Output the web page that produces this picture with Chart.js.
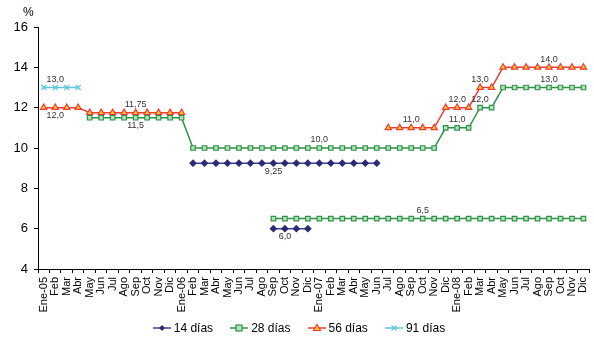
<!DOCTYPE html>
<html>
<head>
<meta charset="utf-8">
<script src="https://cdn.jsdelivr.net/npm/chart.js@4.4.1/dist/chart.umd.min.js"></script>
<style>
  html, body { margin: 0; padding: 0; background: #fff; }
  #wrap { position: relative; width: 594px; height: 337px; font-family: Arial, "Liberation Sans", sans-serif; }
  #pct { position: absolute; left: 23px; top: 5px; font-size: 12px; color: #000; }
  #legend { position: absolute; left: 0; top: 320px; width: 598px; display: flex; justify-content: center; gap: 17px; font-size: 12px; color: #000; line-height: 16px; }
  .item { display: flex; align-items: center; }
  .item svg { margin-right: 3px; }
</style>
</head>
<body>
<div id="wrap">
  <canvas id="c" width="594" height="337"></canvas>
  <div id="pct">%</div>
  <div id="legend"></div>
</div>
<script>
// Months, Jan 2005 – Dec 2008
const months = [
  'Ene-05','Feb','Mar','Abr','May','Jun','Jul','Ago','Sep','Oct','Nov','Dic',
  'Ene-06','Feb','Mar','Abr','May','Jun','Jul','Ago','Sep','Oct','Nov','Dic',
  'Ene-07','Feb','Mar','Abr','May','Jun','Jul','Ago','Sep','Oct','Nov','Dic',
  'Ene-08','Feb','Mar','Abr','May','Jun','Jul','Ago','Sep','Oct','Nov','Dic'
];
const _ = null;

// 14 días
const dias14 = [
  _,_,_,_,_,_,_,_,_,_,_,_,
  _,9.25,9.25,9.25,9.25,9.25,9.25,9.25,9.25,9.25,9.25,9.25,
  9.25,9.25,9.25,9.25,9.25,9.25,_,_,_,_,_,_,
  _,_,_,_,_,_,_,_,_,_,_,_
];
const dias14b = [
  _,_,_,_,_,_,_,_,_,_,_,_,
  _,_,_,_,_,_,_,_,6.0,6.0,6.0,6.0,
  _,_,_,_,_,_,_,_,_,_,_,_,
  _,_,_,_,_,_,_,_,_,_,_,_
];
// 28 días
const dias28 = [
  _,_,_,_,11.5,11.5,11.5,11.5,11.5,11.5,11.5,11.5,
  11.5,10,10,10,10,10,10,10,10,10,10,10,
  10,10,10,10,10,10,10,10,10,10,10,11,
  11,11,12,12,13,13,13,13,13,13,13,13
];
const dias28b = [
  _,_,_,_,_,_,_,_,_,_,_,_,
  _,_,_,_,_,_,_,_,6.5,6.5,6.5,6.5,
  6.5,6.5,6.5,6.5,6.5,6.5,6.5,6.5,6.5,6.5,6.5,6.5,
  6.5,6.5,6.5,6.5,6.5,6.5,6.5,6.5,6.5,6.5,6.5,6.5
];
// 56 días
const dias56 = [
  12,12,12,12,11.75,11.75,11.75,11.75,11.75,11.75,11.75,11.75,
  11.75,_,_,_,_,_,_,_,_,_,_,_,
  _,_,_,_,_,_,11,11,11,11,11,12,
  12,12,13,13,14,14,14,14,14,14,14,14
];
// 91 días
const dias91 = [
  13,13,13,13,_,_,_,_,_,_,_,_,
  _,_,_,_,_,_,_,_,_,_,_,_,
  _,_,_,_,_,_,_,_,_,_,_,_,
  _,_,_,_,_,_,_,_,_,_,_,_
];

// Value labels: [dataset index, point index, 'above' | 'below']
const valueLabels = [
  [5, 1, 'above'],
  [4, 1, 'below'],
  [4, 8, 'above'],
  [2, 8, 'below'],
  [2, 24, 'above'],
  [0, 20, 'below'],
  [1, 21, 'below'],
  [3, 33, 'above'],
  [4, 32, 'above'],
  [4, 36, 'above'],
  [2, 36, 'above'],
  [4, 38, 'above'],
  [2, 38, 'above'],
  [4, 44, 'above'],
  [2, 44, 'above']
];

const C14 = { line: '#3d3d99', pt: '#2b2b75' };
const C28 = { line: '#2e9348', fill: '#b4e3bc' };
const C56 = { line: '#f03a3a', fill: '#ffd21f' };
const C91 = { line: '#5cc8e0' };

function ds(label, data, c, style, r, fill, inLegend) {
  return {
    label, data,
    borderColor: c.line, backgroundColor: c.line,
    borderWidth: 1.5,
    pointStyle: style, pointRadius: r, pointHoverRadius: r,
    pointBackgroundColor: fill || c.pt || c.line,
    pointBorderColor: c.pt || c.line,
    pointBorderWidth: 1.2,
    spanGaps: false, tension: 0,
    inLegend
  };
}

const datasets = [
  ds('14 días', dias14, C14, 'rectRot', 3, C14.pt, true),
  ds('14 días', dias14b, C14, 'rectRot', 3, C14.pt, false),
  ds('28 días', dias28, C28, 'rect', 3.2, C28.fill, true),
  ds('28 días', dias28b, C28, 'rect', 3.2, C28.fill, false),
  ds('56 días', dias56, C56, 'triangle', 3.6, C56.fill, true),
  ds('91 días', dias91, C91, 'crossRot', 3.5, null, true)
];

function fmt(v) {
  const s = (Math.round(v * 100) % 10 !== 0) ? v.toFixed(2) : v.toFixed(1);
  return s.replace('.', ',');
}

const labelPlugin = {
  id: 'valueLabels',
  afterDatasetsDraw(chart) {
    const ctx = chart.ctx;
    ctx.save();
    ctx.font = '9px Arial, "Liberation Sans", sans-serif';
    ctx.fillStyle = '#333';
    ctx.textAlign = 'center';
    ctx.textBaseline = 'middle';
    valueLabels.forEach(([d, i, pos]) => {
      const v = chart.data.datasets[d].data[i];
      const pt = chart.getDatasetMeta(d).data[i];
      const y = pos === 'above' ? pt.y - 8 : pt.y + 8;
      ctx.fillText(fmt(v), pt.x, y);
    });
    ctx.restore();
  }
};

new Chart(document.getElementById('c'), {
  type: 'line',
  data: { labels: months, datasets },
  plugins: [labelPlugin],
  options: {
    responsive: false,
    animation: false,
    devicePixelRatio: 1,
    layout: { padding: { top: 27, right: 0, left: 0, bottom: 0 } },
    plugins: { legend: { display: false }, tooltip: { enabled: false } },
    scales: {
      x: {
        type: 'category',
        offset: true,
        afterFit(s) { s.height = 68; s.paddingRight = 0; },
        grid: { offset: true, drawOnChartArea: false, drawTicks: true, tickLength: 4, color: '#000' },
        border: { color: '#000', width: 1 },
        ticks: {
          autoSkip: false, maxRotation: 90, minRotation: 90, padding: 4,
          color: '#000', font: { family: 'Arial, "Liberation Sans", sans-serif', size: 11 }
        }
      },
      y: {
        min: 4, max: 16,
        afterFit(s) { s.width = 38; },
        grid: { drawOnChartArea: false, drawTicks: true, tickLength: 4, color: '#000' },
        border: { color: '#000', width: 1 },
        ticks: {
          stepSize: 2, padding: 6, color: '#000',
          font: { family: 'Arial, "Liberation Sans", sans-serif', size: 13 }
        }
      }
    }
  }
});

// Legend: line with marker, then series name
const legendIcons = {
  '14 días': `<line x1="0" y1="5" x2="18" y2="5" stroke="${C14.line}" stroke-width="1.5"/><polygon points="9,2 12,5 9,8 6,5" fill="${C14.pt}"/>`,
  '28 días': `<line x1="0" y1="5" x2="18" y2="5" stroke="${C28.line}" stroke-width="1.5"/><rect x="6" y="2" width="6" height="6" fill="${C28.fill}" stroke="${C28.line}" stroke-width="1.2"/>`,
  '56 días': `<line x1="0" y1="5" x2="18" y2="5" stroke="${C56.line}" stroke-width="1.5"/><polygon points="9,1.5 12.5,7.5 5.5,7.5" fill="${C56.fill}" stroke="${C56.line}" stroke-width="1.2"/>`,
  '91 días': `<line x1="0" y1="5" x2="18" y2="5" stroke="${C91.line}" stroke-width="1.5"/><path d="M6.5,2.5 L11.5,7.5 M11.5,2.5 L6.5,7.5" stroke="${C91.line}" stroke-width="1.2"/>`
};
const legend = document.getElementById('legend');
datasets.filter(d => d.inLegend).forEach(d => {
  const item = document.createElement('div');
  item.className = 'item';
  item.innerHTML = `<svg width="18" height="10">${legendIcons[d.label]}</svg><span>${d.label}</span>`;
  legend.appendChild(item);
});
</script>
</body>
</html>
